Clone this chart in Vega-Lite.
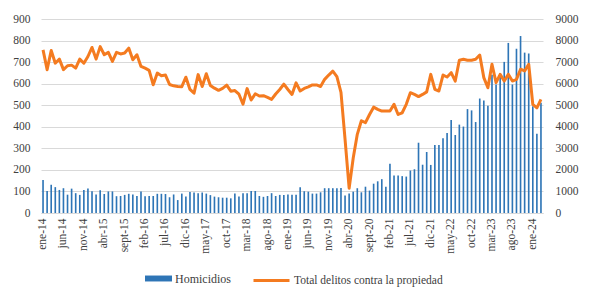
{
  "$schema": "https://vega.github.io/schema/vega-lite/v6.json",
  "width": 502,
  "height": 194,
  "autosize": {"type": "none"},
  "padding": {"left": 41, "top": 19, "right": 47, "bottom": 80},
  "background": "white",
  "config": {"view": {"stroke": null}, "font": "Liberation Serif", "legend": {"labelFont": "Liberation Serif"}, "axis": {"labelFont": "Liberation Serif"}},
  "data": {"values": [
    {"mes":"ene-14","homicidios":153,"propiedad":7570},{"mes":"feb-14","homicidios":102,"propiedad":6650},{"mes":"mar-14","homicidios":131,"propiedad":7540},{"mes":"abr-14","homicidios":120,"propiedad":6950},{"mes":"may-14","homicidios":107,"propiedad":7140},{"mes":"jun-14","homicidios":115,"propiedad":6650},{"mes":"jul-14","homicidios":85,"propiedad":6830},{"mes":"ago-14","homicidios":113,"propiedad":6860},{"mes":"sept-14","homicidios":92,"propiedad":6720},{"mes":"oct-14","homicidios":84,"propiedad":7140},{"mes":"nov-14","homicidios":107,"propiedad":6950},{"mes":"dic-14","homicidios":114,"propiedad":7260},
    {"mes":"ene-15","homicidios":101,"propiedad":7680},{"mes":"feb-15","homicidios":86,"propiedad":7140},{"mes":"mar-15","homicidios":106,"propiedad":7720},{"mes":"abr-15","homicidios":88,"propiedad":7340},{"mes":"may-15","homicidios":100,"propiedad":7450},{"mes":"jun-15","homicidios":100,"propiedad":7030},{"mes":"jul-15","homicidios":78,"propiedad":7450},{"mes":"ago-15","homicidios":79,"propiedad":7380},{"mes":"sept-15","homicidios":84,"propiedad":7420},{"mes":"oct-15","homicidios":89,"propiedad":7650},{"mes":"nov-15","homicidios":86,"propiedad":7110},{"mes":"dic-15","homicidios":79,"propiedad":7340},
    {"mes":"ene-16","homicidios":100,"propiedad":6800},{"mes":"feb-16","homicidios":78,"propiedad":6720},{"mes":"mar-16","homicidios":79,"propiedad":6620},{"mes":"abr-16","homicidios":79,"propiedad":5950},{"mes":"may-16","homicidios":89,"propiedad":6490},{"mes":"jun-16","homicidios":89,"propiedad":6370},{"mes":"jul-16","homicidios":88,"propiedad":6400},{"mes":"ago-16","homicidios":73,"propiedad":5960},{"mes":"sept-16","homicidios":86,"propiedad":5900},{"mes":"oct-16","homicidios":60,"propiedad":5870},{"mes":"nov-16","homicidios":90,"propiedad":5860},{"mes":"dic-16","homicidios":76,"propiedad":6300},
    {"mes":"ene-17","homicidios":98,"propiedad":5730},{"mes":"feb-17","homicidios":95,"propiedad":5560},{"mes":"mar-17","homicidios":92,"propiedad":6420},{"mes":"abr-17","homicidios":95,"propiedad":5870},{"mes":"may-17","homicidios":90,"propiedad":6460},{"mes":"jun-17","homicidios":83,"propiedad":5920},{"mes":"jul-17","homicidios":76,"propiedad":5790},{"mes":"ago-17","homicidios":73,"propiedad":5690},{"mes":"sept-17","homicidios":71,"propiedad":5780},{"mes":"oct-17","homicidios":71,"propiedad":5930},{"mes":"nov-17","homicidios":68,"propiedad":5650},{"mes":"dic-17","homicidios":90,"propiedad":5680},
    {"mes":"ene-18","homicidios":76,"propiedad":5510},{"mes":"feb-18","homicidios":92,"propiedad":5050},{"mes":"mar-18","homicidios":92,"propiedad":5770},{"mes":"abr-18","homicidios":102,"propiedad":5240},{"mes":"may-18","homicidios":102,"propiedad":5530},{"mes":"jun-18","homicidios":79,"propiedad":5430},{"mes":"jul-18","homicidios":75,"propiedad":5440},{"mes":"ago-18","homicidios":79,"propiedad":5360},{"mes":"sept-18","homicidios":92,"propiedad":5270},{"mes":"oct-18","homicidios":79,"propiedad":5520},{"mes":"nov-18","homicidios":84,"propiedad":5730},{"mes":"dic-18","homicidios":84,"propiedad":5980},
    {"mes":"ene-19","homicidios":86,"propiedad":5730},{"mes":"feb-19","homicidios":85,"propiedad":5500},{"mes":"mar-19","homicidios":85,"propiedad":6040},{"mes":"abr-19","homicidios":119,"propiedad":5660},{"mes":"may-19","homicidios":101,"propiedad":5780},{"mes":"jun-19","homicidios":99,"propiedad":5850},{"mes":"jul-19","homicidios":90,"propiedad":5940},{"mes":"ago-19","homicidios":90,"propiedad":5940},{"mes":"sept-19","homicidios":96,"propiedad":5870},{"mes":"oct-19","homicidios":115,"propiedad":6200},{"mes":"nov-19","homicidios":115,"propiedad":6400},{"mes":"dic-19","homicidios":115,"propiedad":6580},
    {"mes":"ene-20","homicidios":115,"propiedad":6330},{"mes":"feb-20","homicidios":116,"propiedad":5600},{"mes":"mar-20","homicidios":81,"propiedad":3420},{"mes":"abr-20","homicidios":90,"propiedad":1150},{"mes":"may-20","homicidios":99,"propiedad":2550},{"mes":"jun-20","homicidios":115,"propiedad":3650},{"mes":"jul-20","homicidios":96,"propiedad":4280},{"mes":"ago-20","homicidios":122,"propiedad":4190},{"mes":"sept-20","homicidios":104,"propiedad":4570},{"mes":"oct-20","homicidios":136,"propiedad":4910},{"mes":"nov-20","homicidios":147,"propiedad":4810},{"mes":"dic-20","homicidios":157,"propiedad":4730},
    {"mes":"ene-21","homicidios":122,"propiedad":4730},{"mes":"feb-21","homicidios":228,"propiedad":4730},{"mes":"mar-21","homicidios":174,"propiedad":5040},{"mes":"abr-21","homicidios":174,"propiedad":4570},{"mes":"may-21","homicidios":171,"propiedad":4650},{"mes":"jun-21","homicidios":169,"propiedad":5040},{"mes":"jul-21","homicidios":197,"propiedad":5580},{"mes":"ago-21","homicidios":203,"propiedad":5500},{"mes":"sept-21","homicidios":326,"propiedad":5400},{"mes":"oct-21","homicidios":224,"propiedad":5500},{"mes":"nov-21","homicidios":283,"propiedad":5620},{"mes":"dic-21","homicidios":223,"propiedad":6430},
    {"mes":"ene-22","homicidios":315,"propiedad":5740},{"mes":"feb-22","homicidios":315,"propiedad":5660},{"mes":"mar-22","homicidios":347,"propiedad":6400},{"mes":"abr-22","homicidios":371,"propiedad":6310},{"mes":"may-22","homicidios":432,"propiedad":6510},{"mes":"jun-22","homicidios":362,"propiedad":6120},{"mes":"jul-22","homicidios":410,"propiedad":7090},{"mes":"ago-22","homicidios":401,"propiedad":7130},{"mes":"sept-22","homicidios":482,"propiedad":7090},{"mes":"oct-22","homicidios":476,"propiedad":7090},{"mes":"nov-22","homicidios":422,"propiedad":7130},{"mes":"dic-22","homicidios":531,"propiedad":7330},
    {"mes":"ene-23","homicidios":522,"propiedad":6280},{"mes":"feb-23","homicidios":497,"propiedad":5810},{"mes":"mar-23","homicidios":641,"propiedad":6900},{"mes":"abr-23","homicidios":596,"propiedad":6050},{"mes":"may-23","homicidios":650,"propiedad":6430},{"mes":"jun-23","homicidios":701,"propiedad":6120},{"mes":"jul-23","homicidios":789,"propiedad":6430},{"mes":"ago-23","homicidios":596,"propiedad":6120},{"mes":"sept-23","homicidios":762,"propiedad":6200},{"mes":"oct-23","homicidios":821,"propiedad":6670},{"mes":"nov-23","homicidios":744,"propiedad":6590},{"mes":"dic-23","homicidios":740,"propiedad":6900},
    {"mes":"ene-24","homicidios":495,"propiedad":5040},{"mes":"feb-24","homicidios":368,"propiedad":4880},{"mes":"mar-24","homicidios":511,"propiedad":5270}
  ]},
  "encoding": {
    "x": {
      "field": "mes", "type": "ordinal", "sort": null,
      "scale": {"paddingInner": 0.6, "paddingOuter": 0.3},
      "axis": {
        "title": null,
        "values": ["ene-14","jun-14","nov-14","abr-15","sept-15","feb-16","jul-16","dic-16","may-17","oct-17","mar-18","ago-18","ene-19","jun-19","nov-19","abr-20","sept-20","feb-21","jul-21","dic-21","may-22","oct-22","mar-23","ago-23","ene-24"],
        "labelAngle": 270,
        "labelFontSize": 11.5,
        "labelColor": "#404040",
        "labelPadding": 5,
        "ticks": false,
        "domain": true,
        "domainColor": "#D9D9D9",
        "grid": false
      }
    }
  },
  "layer": [
    {
      "mark": {"type": "bar", "color": "#2E75B6"},
      "encoding": {
        "y": {
          "field": "homicidios", "type": "quantitative",
          "scale": {"domain": [0, 900], "nice": false},
          "axis": {
            "title": null, "values": [0,100,200,300,400,500,600,700,800,900],
            "domain": false, "ticks": false, "grid": true, "gridColor": "#D9D9D9",
            "labelFontSize": 11.5, "labelColor": "#404040", "labelPadding": 11
          }
        },
        "fill": {
          "datum": "Homicidios",
          "scale": {"range": ["#2E75B6"]},
          "legend": {
            "title": null, "orient": "none", "legendX": 104, "legendY": 246,
            "symbolType": "M-1,-0.22H1V0.22H-1Z", "symbolSize": 729, "symbolStrokeWidth": 0,
            "labelFont": "Liberation Serif", "labelFontSize": 12, "labelColor": "#404040", "labelOffset": 3
          }
        }
      }
    },
    {
      "mark": {"type": "line", "color": "#F47B20", "strokeWidth": 3, "strokeJoin": "round"},
      "encoding": {
        "y": {
          "field": "propiedad", "type": "quantitative",
          "scale": {"domain": [0, 9000], "nice": false},
          "axis": {
            "title": null, "orient": "right", "values": [0,1000,2000,3000,4000,5000,6000,7000,8000,9000],
            "format": "d",
            "domain": false, "ticks": false, "grid": false,
            "labelFontSize": 11.5, "labelColor": "#404040", "labelPadding": 12
          }
        },
        "stroke": {
          "datum": "Total delitos contra la propiedad",
          "scale": {"range": ["#F47B20"]},
          "legend": {
            "title": null, "orient": "none", "legendX": 211, "legendY": 242,
            "symbolType": "stroke", "symbolSize": 1296, "symbolStrokeWidth": 3,
            "labelFont": "Liberation Serif", "labelFontSize": 11.5, "labelColor": "#404040", "labelOffset": 3
          }
        }
      }
    }
  ],
  "resolve": {"scale": {"y": "independent"}}
}
